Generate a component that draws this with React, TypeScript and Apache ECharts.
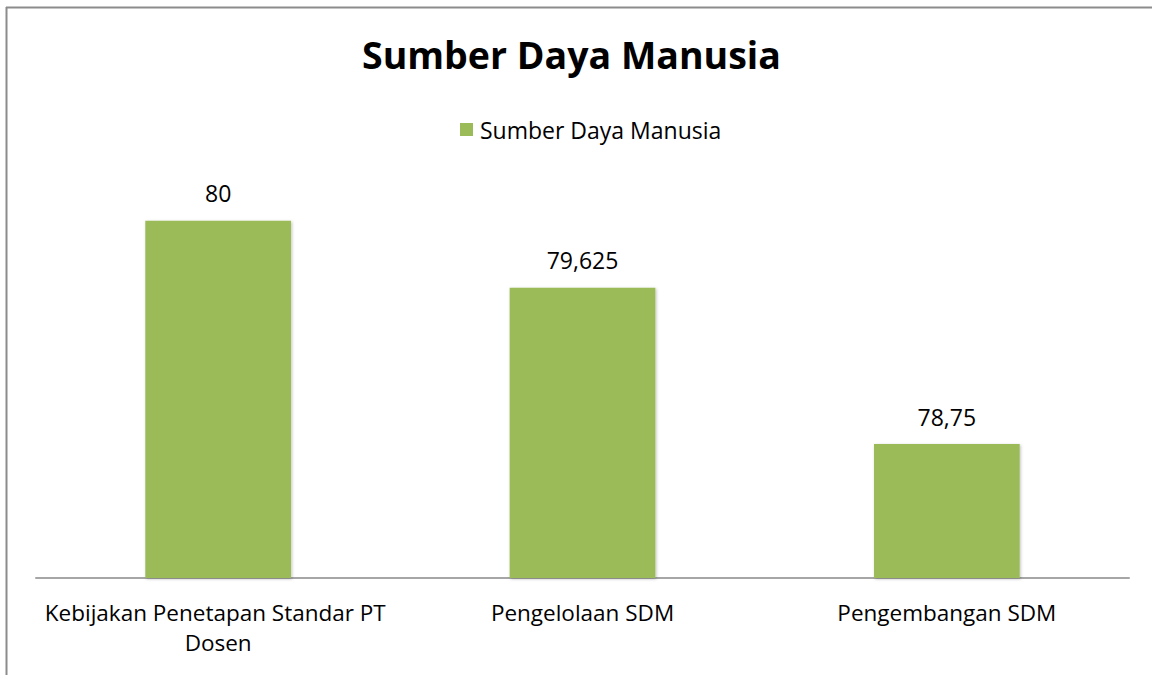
import React, { useEffect, useRef } from "react";
import * as echarts from "echarts";

const categories = [
  "Kebijakan Penetapan Standar PT Dosen",
  "Pengelolaan SDM",
  "Pengembangan SDM",
];
const seriesName = "Sumber Daya Manusia";
const values = [80, 79.625, 78.75];
const titleText = "Sumber Daya Manusia";

const FONT = "'Open Sans', 'Noto Sans', sans-serif";

export default function App() {
  const ref = useRef<HTMLDivElement>(null);
  useEffect(() => {
    if (!ref.current) return;
    const chart = echarts.init(ref.current, null, { renderer: "svg" });
    chart.setOption({
      animation: false,
      backgroundColor: "#ffffff",
      textStyle: { fontFamily: FONT },
      title: {
        text: titleText,
        left: 357,
        top: 30,
        textStyle: { fontFamily: FONT, fontSize: 37.5, fontWeight: "bold", color: "#000" },
      },
      legend: {
        data: [seriesName],
        top: 113,
        left: 455,
        icon: "rect",
        itemWidth: 13,
        itemHeight: 13,
        textStyle: { fontFamily: FONT, fontSize: 23, color: "#000", padding: [0, 0, 0, 2] },
      },
      graphic: [
        { type: "line", shape: { x1: 6.5, y1: 7, x2: 6.5, y2: 675 }, style: { stroke: "#8c8c8c", lineWidth: 2 } },
        { type: "line", shape: { x1: 6, y1: 7.5, x2: 1152, y2: 7.5 }, style: { stroke: "#8c8c8c", lineWidth: 2 } },
      ],
      grid: { left: 36, right: 23, top: 185, bottom: 97 },
      xAxis: {
        type: "category",
        data: categories,
        axisLine: { show: true, lineStyle: { color: "#a6a6a6", width: 2 } },
        axisTick: { show: false },
        axisLabel: {
          fontFamily: FONT,
          fontSize: 22.5,
          color: "#000",
          margin: 19,
          lineHeight: 30,
          width: 360,
          overflow: "break",
          interval: 0,
        },
      },
      yAxis: {
        type: "value",
        min: 78,
        max: 80.2,
        show: false,
        splitLine: { show: false },
      },
      series: [
        {
          name: seriesName,
          type: "bar",
          data: values,
          barWidth: "40%",
          itemStyle: {
            color: "#9BBB59",
            shadowColor: "rgba(0,0,0,0.25)",
            shadowBlur: 3,
            shadowOffsetX: 1,
            shadowOffsetY: 1,
          },
          label: {
            show: true,
            position: "top",
            distance: 16,
            fontFamily: FONT,
            fontSize: 23,
            color: "#000",
            formatter: (p: any) => String(p.value).replace(".", ","),
          },
        },
      ],
    });
    return () => chart.dispose();
  }, []);
  return (
    <div
      ref={ref}
      style={{ position: "absolute", left: 0, top: 0, width: 1152, height: 675 }}
    />
  );
}
